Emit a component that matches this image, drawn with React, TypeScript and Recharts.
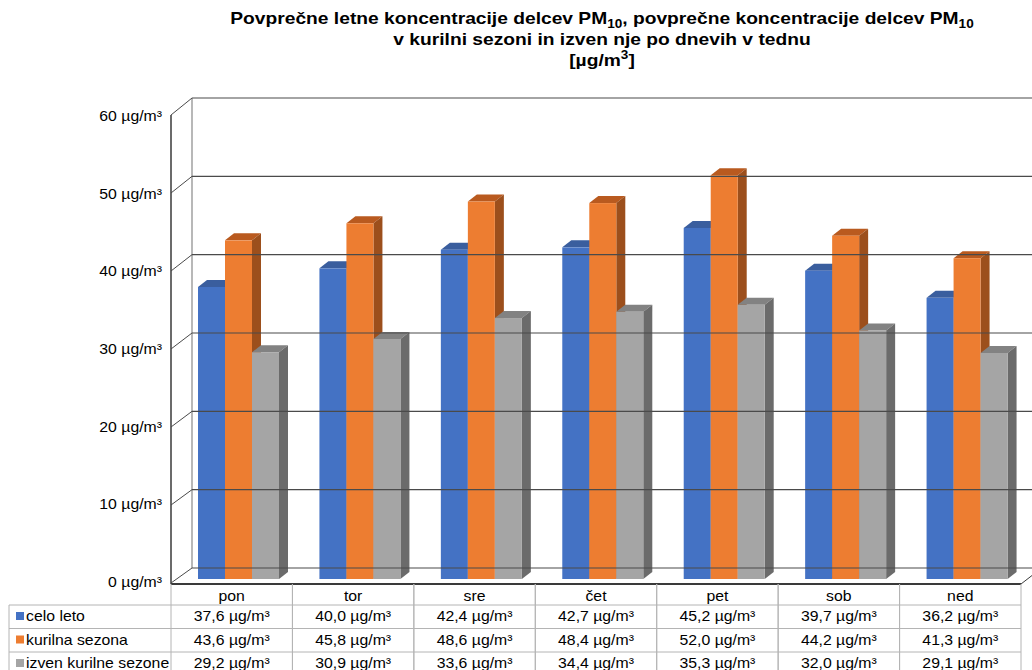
import React from 'react';
import { BarChart, Bar, XAxis, YAxis, ReferenceLine, ReferenceArea } from 'recharts';

const days = ['pon', 'tor', 'sre', 'čet', 'pet', 'sob', 'ned'];
const celoLeto = [37.6, 40.0, 42.4, 42.7, 45.2, 39.7, 36.2];
const kurilnaSezona = [43.6, 45.8, 48.6, 48.4, 52.0, 44.2, 41.3];
const izvenSezone = [29.2, 30.9, 33.6, 34.4, 35.3, 32.0, 29.1];
const yTicks = [0, 10, 20, 30, 40, 50, 60];

const series = [
  { key: 'celo', name: 'celo leto', values: celoLeto, front: '#4472C4', top: '#3A5E9E', side: '#2F5597' },
  { key: 'kurilna', name: 'kurilna sezona', values: kurilnaSezona, front: '#ED7D31', top: '#B95A1F', side: '#9C4F1C' },
  { key: 'izven', name: 'izven kurilne sezone', values: izvenSezone, front: '#A5A5A5', top: '#828282', side: '#6B6B6B' },
];

const data = days.map((d, i) => ({ day: d, celo: celoLeto[i], kurilna: kurilnaSezona[i], izven: izvenSezone[i] }));

const W = 1032;
const H = 670;
const PLOT_LEFT = 171;
const PLOT_RIGHT = 1021;
const PLOT_TOP = 113;
const AXIS_H = 91;
const BAND = (PLOT_RIGHT - PLOT_LEFT) / days.length;
const WALL_DX = 21;
const FONT = "'Liberation Sans', Arial, sans-serif";
const GRID = '#4a4a4a';
const CELL = '#b4b4b4';
const STRETCH = 1.13; // the original text is drawn a bit wider than normal

const fmt = (v: number) => v.toFixed(1).replace('.', ',') + ' µg/m³';

const Txt = ({ x, y, anchor, children }: any) => (
  <text
    transform={`translate(${x},${y}) scale(${STRETCH},1)`}
    textAnchor={anchor}
    fontSize={14}
    fontFamily={FONT}
    fill="#000"
  >
    {children}
  </text>
);

// back wall gridline + slanted side-wall line for one tick value
const wallLine = (v: number) => (p: any) => {
  const { x1, y1, x2 } = p;
  const fy = y1 + 4 - v / 30;
  const by = y1 - 11 - v / 15;
  return (
    <g>
      <line x1={x1} y1={fy} x2={x1 + WALL_DX} y2={by} stroke={GRID} strokeWidth={1} />
      <line x1={x1 + WALL_DX} y1={by} x2={x2 + 40} y2={by} stroke={GRID} strokeWidth={1.2} />
    </g>
  );
};

// wall edges, front axis, floor edge
const Frame = (p: any) => {
  const { x, y, width, height } = p;
  const bottom = y + height;
  return (
    <g>
      <line x1={x + WALL_DX} y1={y - 15} x2={x + WALL_DX} y2={bottom - 11} stroke="#a0a0a0" strokeWidth={1.5} />
      <line x1={x} y1={y + 2} x2={x} y2={bottom + 5} stroke="#3a3a3a" strokeWidth={1.5} />
      <line x1={x} y1={bottom + 5} x2={x + width} y2={bottom + 5} stroke="#3a3a3a" strokeWidth={2} />
      <line x1={x + width} y1={bottom + 5} x2={x + width + 22} y2={bottom - 12} stroke="#3a3a3a" strokeWidth={1} />
    </g>
  );
};

const bar3d = (s: typeof series[number]) => (p: any) => {
  const { x, y, width, height } = p;
  if (height <= 0) return <g />;
  const fx = x + 7;
  const dx = 9;
  const dy = 7;
  return (
    <g>
      <polygon points={`${fx},${y} ${fx + dx},${y - dy} ${fx + width + dx},${y - dy} ${fx + width},${y}`} fill={s.top} />
      <polygon
        points={`${fx + width},${y} ${fx + width + dx},${y - dy} ${fx + width + dx},${y + height - dy} ${fx + width},${y + height}`}
        fill={s.side}
      />
      <rect x={fx} y={y} width={width} height={height} fill={s.front} />
    </g>
  );
};

const YTick = (p: any) => (
  <Txt x={p.x} y={p.y + 8} anchor="end">
    {p.payload.value} µg/m³
  </Txt>
);

const TableTick = (p: any) => {
  const { x, y, payload, index } = p;
  const half = BAND / 2;
  const top = y + 5;
  const rowTop = [top + 21, top + 44.5, top + 68];
  const i = index as number;
  return (
    <g>
      <line x1={x - half} y1={top} x2={x - half} y2={top + 100} stroke={CELL} />
      <line x1={x + half} y1={top} x2={x + half} y2={top + 100} stroke={CELL} />
      {rowTop.map((ry, r) => (
        <line key={r} x1={x - half} y1={ry} x2={x + half} y2={ry} stroke={CELL} />
      ))}
      <Txt x={x} y={top + 17} anchor="middle">{payload.value}</Txt>
      {series.map((s, r) => (
        <Txt key={s.key} x={x} y={rowTop[r] + 16} anchor="middle">{fmt(s.values[i])}</Txt>
      ))}
      {i === 0 && (
        <g>
          <line x1={9} y1={rowTop[0]} x2={9} y2={top + 100} stroke={CELL} />
          {rowTop.map((ry, r) => (
            <line key={r} x1={9} y1={ry} x2={x - half} y2={ry} stroke={CELL} />
          ))}
          {series.map((s, r) => (
            <g key={s.key}>
              <rect x={16} y={rowTop[r] + 7} width={8} height={8} fill={s.front} />
              <Txt x={26} y={rowTop[r] + 16} anchor="start">{s.name}</Txt>
            </g>
          ))}
        </g>
      )}
    </g>
  );
};

export default function App() {
  return (
    <div style={{ position: 'absolute', left: 0, top: 0, width: W, height: H, background: '#fff', overflow: 'hidden' }}>
      <div
        style={{
          position: 'absolute',
          left: 172,
          width: 860,
          top: 8,
          textAlign: 'center',
          fontFamily: FONT,
          fontWeight: 'bold',
          fontSize: 17,
          lineHeight: '21px',
          color: '#000',
          transform: `scaleX(${STRETCH})`,
          transformOrigin: '430px 0',
        }}
      >
        <div>
          Povprečne letne koncentracije delcev PM<sub style={{ fontSize: 12, lineHeight: 0 }}>10</sub>, povprečne koncentracije delcev PM
          <sub style={{ fontSize: 12, lineHeight: 0 }}>10</sub>
        </div>
        <div>v kurilni sezoni in izven nje po dnevih v tednu</div>
        <div>
          [µg/m<sup style={{ fontSize: 12, lineHeight: 0 }}>3</sup>]
        </div>
      </div>
      <BarChart
        width={W}
        height={H}
        data={data}
        margin={{ top: PLOT_TOP, right: W - PLOT_RIGHT, bottom: 0, left: 0 }}
        barGap={0}
        barSize={27}
        style={{ position: 'absolute', left: 0, top: 0 }}
      >
        <XAxis
          dataKey="day"
          height={AXIS_H}
          axisLine={false}
          tickLine={false}
          tickSize={0}
          tickMargin={0}
          interval={0}
          tick={<TableTick />}
        />
        <YAxis
          domain={[0, 60]}
          ticks={yTicks}
          width={PLOT_LEFT}
          axisLine={false}
          tickLine={false}
          tickSize={0}
          tickMargin={9}
          tick={<YTick />}
        />
        <ReferenceArea y1={0} y2={60} shape={<Frame />} ifOverflow="visible" />
        {yTicks.map((v) => (
          <ReferenceLine key={v} y={v} shape={wallLine(v)} ifOverflow="visible" />
        ))}
        {series.map((s) => (
          <Bar key={s.key} dataKey={s.key} name={s.name} fill={s.front} shape={bar3d(s)} isAnimationActive={false} />
        ))}
      </BarChart>
    </div>
  );
}
